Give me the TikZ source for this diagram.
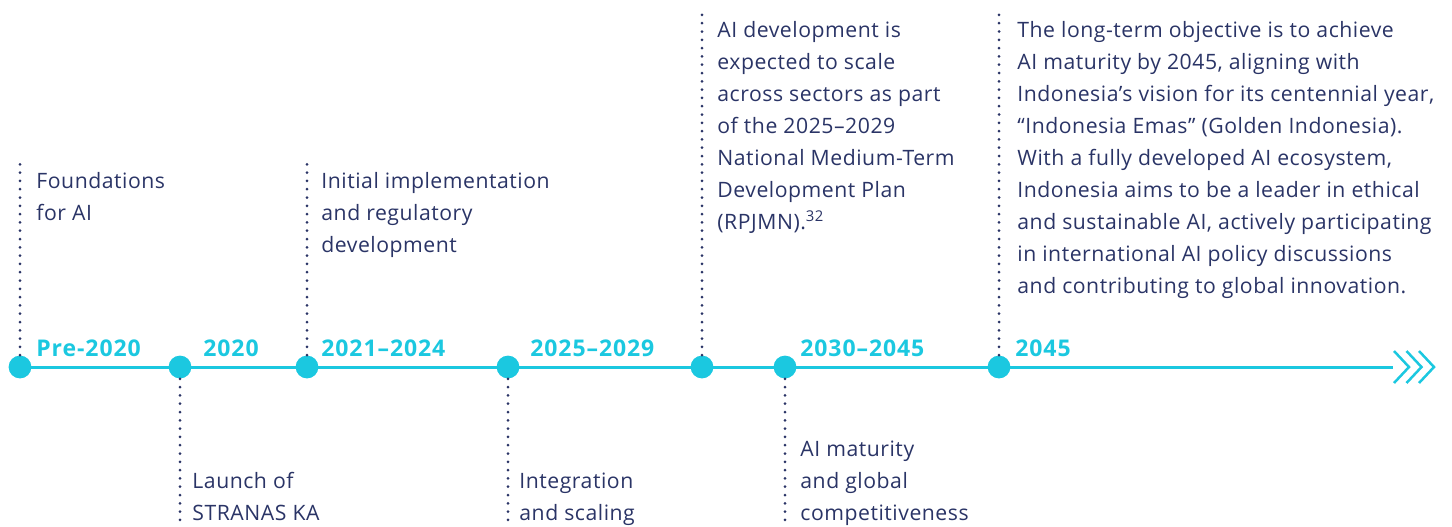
\documentclass[tikz,border=0pt]{standalone}
\usepackage{fontspec}
\setmainfont[LetterSpace=2.5]{Open Sans}
\newfontfamily\yearfont[LetterSpace=4]{Open Sans}
\usepackage{tikz}

\definecolor{tlcyan}{RGB}{27,200,224}
\definecolor{tlnavy}{RGB}{42,52,102}

\begin{document}
\begin{tikzpicture}[x=0.5pt,y=-0.5pt,
    dot/.style={circle,fill=tlcyan,inner sep=0pt,minimum size=11.4pt},
    tline/.style={draw=tlcyan,line width=1.5pt},
    dotline/.style={draw=tlnavy,line width=1.5pt,line cap=round,dash pattern=on 0pt off 4.15pt},
    year/.style={anchor=base west,inner sep=0pt,text=tlcyan,font=\yearfont\fontsize{11.5}{14}\selectfont\bfseries},
    event/.style={anchor=base west,inner sep=0pt,text=tlnavy,align=left,font=\fontsize{10.6}{16}\selectfont}]
  \useasboundingbox (0,0) rectangle (1452,526);
      % timeline points
      \node[dot] (p0) at (20,367) {};
      \node[dot] (p1) at (180,367) {};
      \node[dot] (p2) at (307,367) {};
      \node[dot] (p3) at (508,367) {};
      \node[dot] (p4) at (702,367) {};
      \node[dot] (p5) at (785,367) {};
      \node[dot] (p6) at (999,367) {};
      \coordinate (lineend) at (1393,367);
    \draw[tline] (p0.center) -- (lineend);
    \foreach \dx in {0,12.5,25} {
      \draw[tlcyan,line width=1.25pt] ([xshift=\dx*0.5pt]lineend) ++(1,-16) -- ++(15,16) -- ++(-15,16);
    }
      % dotted leaders
      \coordinate (t0) at (20,158);
      \coordinate (t2) at (307,158);
      \coordinate (t4) at (702,8);
      \coordinate (t6) at (999,8);
      \coordinate (b1) at (180,526);
      \coordinate (b3) at (508,526);
      \coordinate (b5) at (785,526);
    \draw[dotline] (p0) -- (t0);
    \draw[dotline] (p2) -- (t2);
    \draw[dotline] (p4) -- (t4);
    \draw[dotline] (p6) -- (t6);
    \draw[dotline] (p1) -- (b1);
    \draw[dotline] (p3) -- (b3);
    \draw[dotline] (p5) -- (b5);
      % years
      \node[year] (y0) at (36,356) {Pre-2020};
      \node[year] (y1) at (203,356) {2020};
      \node[year] (y2) at (321,356) {2021–2024};
      \node[year] (y3) at (530,356) {2025–2029};
      \node[year] (y5) at (800,356) {2030–2045};
      \node[year] (y6) at (1015,356) {2045};
      % descriptions (anchored at the baseline of the last line)
      \node[event] (e0) at (36,220) {Foundations\\for AI};
      \node[event] (e1) at (192,520) {Launch of\\STRANAS KA};
      \node[event] (e2) at (321,252) {Initial implementation\\and regulatory\\development};
      \node[event] (e3) at (519,520) {Integration\\and scaling};
      \node[event] (e4) at (717,229) {AI development is\\expected to scale\\across sectors as part\\of the 2025–2029\\National Medium-Term\\Development Plan\\(RPJMN).\textsuperscript{32}};
      \node[event] (e5) at (800,520) {AI maturity\\and global\\competitiveness};
      \node[event] (e6) at (1017,293) {The long-term objective is to achieve\\AI maturity by 2045, aligning with\\Indonesia’s vision for its centennial year,\\“Indonesia Emas” (Golden Indonesia).\\With a fully developed AI ecosystem,\\Indonesia aims to be a leader in ethical\\and sustainable AI, actively participating\\in international AI policy discussions\\and contributing to global innovation.};
\end{tikzpicture}
\end{document}
